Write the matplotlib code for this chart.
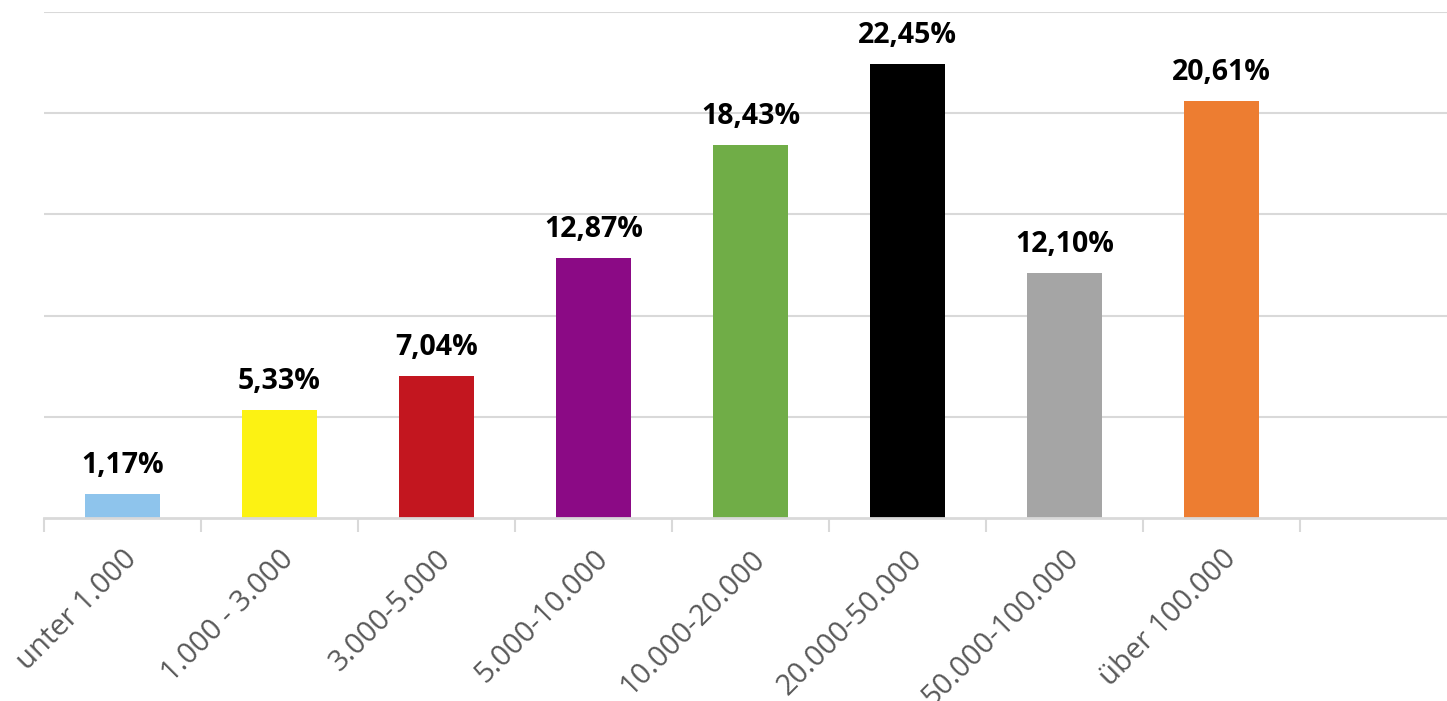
import matplotlib
matplotlib.use("Agg")
import matplotlib.pyplot as plt

categories = ["unter 1.000", "1.000 - 3.000", "3.000-5.000", "5.000-10.000",
              "10.000-20.000", "20.000-50.000", "50.000-100.000", "über 100.000"]
values = [1.17, 5.33, 7.04, 12.87, 18.43, 22.45, 12.10, 20.61]
labels = ["1,17%", "5,33%", "7,04%", "12,87%", "18,43%", "22,45%", "12,10%", "20,61%"]
colors = ["#8EC4EC", "#FCF213", "#C3161F", "#8B0A85", "#70AD47", "#000000", "#A5A5A5", "#ED7D31"]

W, H = 1447, 701
fig = plt.figure(figsize=(W / 100, H / 100), dpi=100)
ax = fig.add_axes([44 / W, (H - 518) / H, (W - 44) / W, (518 - 12) / H])

slot = 157
x = list(range(len(categories)))
ax.bar(x, values, width=75 / slot, color=colors, zorder=3)

for xi, v, lab in zip(x, values, labels):
    ax.annotate(lab, (xi, v), xytext=(0, 10), textcoords="offset points",
                ha="center", va="bottom", fontsize=20.5, fontweight="bold",
                family="Open Sans", color="black")

ax.set_xlim(-0.5, (W - 44) / slot - 0.5)
ax.set_ylim(0, 25)
ax.set_yticks([5, 10, 15, 20, 25])
ax.yaxis.grid(True, color="#D9D9D9", lw=1.5, zorder=0)
ax.tick_params(axis="y", length=0, labelleft=False)

# category boundary ticks, labels on minor ticks at centers
ax.set_xticks([i - 0.5 for i in range(len(categories) + 1)])
ax.set_xticklabels([])
ax.tick_params(axis="x", which="major", length=10, width=1.5, color="#D9D9D9")
ax.set_xticks(x, minor=True)
ax.set_xticklabels(categories, minor=True, rotation=45, ha="right",
                   rotation_mode="anchor", fontsize=21, color="#595959",
                   family="Open Sans")
ax.tick_params(axis="x", which="minor", length=0, pad=19)

for s in ["top", "right", "left"]:
    ax.spines[s].set_visible(False)
ax.spines["bottom"].set_color("#D9D9D9")
ax.spines["bottom"].set_linewidth(2)
ax.spines["bottom"].set_zorder(4)

fig.savefig("out.png", dpi=100)
